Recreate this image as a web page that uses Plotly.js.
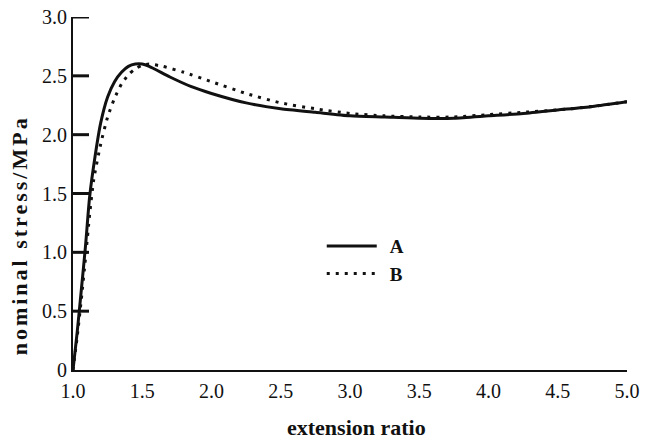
<!DOCTYPE html>
<html>
<head>
<meta charset="utf-8">
<script src="https://cdn.plot.ly/plotly-3.0.1.min.js"></script>
<style>
  html, body { margin: 0; padding: 0; background: #fff; }
  #chart { width: 653px; height: 442px; }
</style>
</head>
<body>
<div id="chart"></div>
<script>
// Data
const seriesNames = ['A', 'B'];

const xA = [1.0, 1.03, 1.06, 1.09, 1.12, 1.16, 1.20, 1.25, 1.30, 1.35, 1.40, 1.45, 1.50, 1.55, 1.70, 1.85, 2.0, 2.25, 2.5, 2.75, 3.0, 3.25, 3.5, 3.75, 4.0, 4.25, 4.5, 4.75, 5.0];
const yA = [0, 0.32, 0.68, 1.05, 1.47, 1.82, 2.10, 2.32, 2.45, 2.53, 2.58, 2.60, 2.60, 2.58, 2.49, 2.41, 2.35, 2.27, 2.22, 2.19, 2.16, 2.15, 2.14, 2.14, 2.16, 2.18, 2.21, 2.24, 2.28];

const xB = [1.0, 1.03, 1.06, 1.09, 1.12, 1.15, 1.20, 1.25, 1.30, 1.35, 1.40, 1.45, 1.50, 1.55, 1.65, 1.80, 2.0, 2.25, 2.5, 2.75, 3.0, 3.25, 3.5, 3.75, 4.0, 4.25, 4.5, 4.75, 5.0];
const yB = [0, 0.28, 0.60, 0.95, 1.32, 1.62, 1.92, 2.15, 2.31, 2.43, 2.51, 2.56, 2.59, 2.60, 2.58, 2.53, 2.45, 2.35, 2.27, 2.22, 2.18, 2.16, 2.15, 2.15, 2.17, 2.19, 2.21, 2.24, 2.28];

const xTickVals = [1.0, 1.5, 2.0, 2.5, 3.0, 3.5, 4.0, 4.5, 5.0];
const xTickText = ['1.0', '1.5', '2.0', '2.5', '3.0', '3.5', '4.0', '4.5', '5.0'];
const yTickVals = [0, 0.5, 1.0, 1.5, 2.0, 2.5, 3.0];
const yTickText = ['0', '0.5', '1.0', '1.5', '2.0', '2.5', '3.0'];

const xTitle = 'extension ratio';
const yTitle = 'nominal stress/MPa';

const serif = '"Liberation Serif", "Times New Roman", serif';
const ink = '#111';

const traces = [
  {
    x: xA, y: yA, name: seriesNames[0], type: 'scatter', mode: 'lines',
    line: { color: ink, width: 3, shape: 'spline', smoothing: 0.6 }
  },
  {
    x: xB, y: yB, name: seriesNames[1], type: 'scatter', mode: 'lines',
    line: { color: ink, width: 3, dash: '3px,6px', shape: 'spline', smoothing: 0.6 }
  }
];

// inward tick marks on the stress axis, one per y tick value (length as a fraction of plot width)
const tickFrac = 16 / 554;
const tickShapes = yTickVals.filter(function (v) { return v > 0; }).map(function (v) {
  return {
    type: 'line', xref: 'paper', yref: 'y',
    x0: 0, x1: tickFrac, y0: v, y1: v,
    line: { color: ink, width: 3 }, layer: 'above'
  };
});

const layout = {
  width: 653, height: 442,
  margin: { l: 73, r: 26, t: 17, b: 72, pad: 0 },
  font: { family: serif, size: 20, color: ink },
  showlegend: true,
  legend: {
    x: 0.449, y: 0.405, xanchor: 'left', yanchor: 'top',
    bgcolor: 'rgba(0,0,0,0)', borderwidth: 0,
    font: { family: serif, size: 19, color: ink, weight: 'bold' },
    tracegroupgap: 0
  },
  xaxis: {
    range: [1, 5], showgrid: false, zeroline: false,
    showline: true, linecolor: ink, linewidth: 2,
    ticks: '', tickmode: 'array', tickvals: xTickVals, ticktext: xTickText,
    tickfont: { family: serif, size: 20, color: ink },
    ticklabelstandoff: 2
  },
  yaxis: {
    range: [0, 3], showgrid: false, zeroline: false,
    showline: true, linecolor: ink, linewidth: 2,
    ticks: 'inside', ticklen: 16, tickwidth: 2, tickcolor: ink,
    tickmode: 'array', tickvals: yTickVals, ticktext: yTickText,
    tickfont: { family: serif, size: 20, color: ink }
  },
  shapes: tickShapes,
  annotations: [
    {
      text: xTitle, xref: 'paper', yref: 'paper',
      x: 0.511, y: -0.164, xanchor: 'center', yanchor: 'middle',
      showarrow: false,
      font: { family: serif, size: 22, color: ink, weight: 'bold' }
    },
    {
      text: yTitle, xref: 'paper', yref: 'paper', textangle: -90,
      x: -0.096, y: 0.381, xanchor: 'center', yanchor: 'middle',
      showarrow: false,
      font: { family: serif, size: 22, color: ink, weight: 'bold' }
    }
  ]
};

Plotly.newPlot('chart', traces, layout, { displayModeBar: false, staticPlot: true }).then(function (gd) {
  // wider lettering of the vertical title, as in the reference
  const ann = gd.querySelectorAll('.annotation-text');
  if (ann.length > 1) ann[1].style.letterSpacing = '3px';
  // longer key samples, as in the reference legend
  const sb = gd.querySelector('.legend .scrollbox');
  if (sb) sb.removeAttribute('clip-path');
  gd.querySelectorAll('.legend .legendlines path').forEach(function (p) {
    p.setAttribute('d', 'M5,0h50');
  });
  gd.querySelectorAll('.legend .legendtext').forEach(function (t) {
    t.setAttribute('x', '68');
  });
});
</script>
</body>
</html>
